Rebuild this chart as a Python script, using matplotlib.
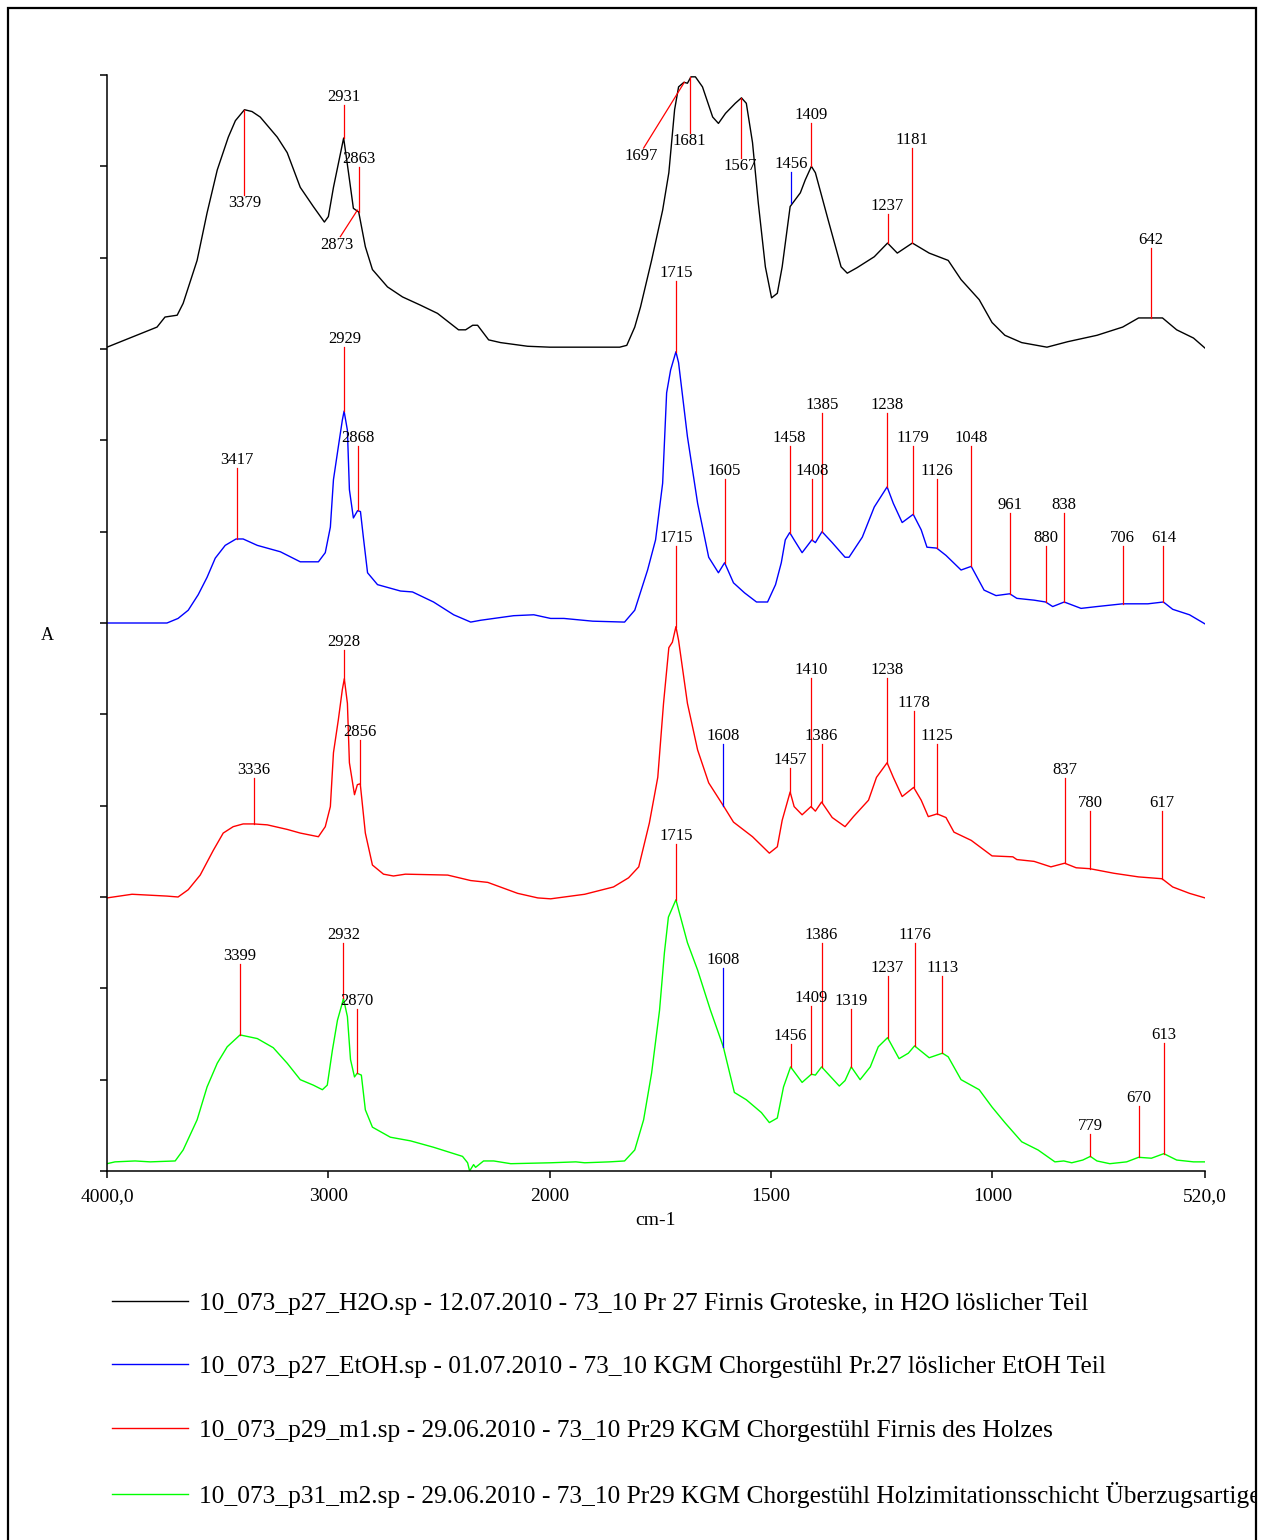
import numpy as np
import matplotlib
matplotlib.use("Agg")
import matplotlib.pyplot as plt
from matplotlib.patches import Rectangle
from matplotlib.lines import Line2D

plt.rcParams['font.family'] = ['Liberation Serif', 'DejaVu Serif']

# ---------------- data ----------------
wn_black = [4000, 3774, 3738, 3683, 3656, 3593, 3548, 3502, 3452, 3420, 3379, 3345, 3308, 3231, 3186, 3127,
            3068, 3018, 3000, 2977, 2931, 2909, 2887, 2863, 2833, 2801, 2733, 2665, 2584, 2507, 2412, 2380,
            2348, 2326, 2276, 2222, 2100, 2000, 1842, 1826, 1808, 1795, 1770, 1745, 1731, 1718, 1709, 1697,
            1689, 1681, 1671, 1655, 1632, 1619, 1603, 1581, 1567, 1556, 1542, 1529, 1513, 1499, 1486, 1475,
            1457, 1434, 1423, 1409, 1400, 1371, 1342, 1328, 1306, 1267, 1237, 1215, 1181, 1143, 1100, 1071,
            1030, 1001, 972, 934, 877, 830, 764, 706, 670, 642, 616, 584, 546, 520]
ab_black = [9.02, 9.24, 9.35, 9.37, 9.50, 9.97, 10.49, 10.96, 11.32, 11.50, 11.62, 11.60, 11.54, 11.32, 11.15, 10.77,
            10.56, 10.39, 10.45, 10.77, 11.31, 10.93, 10.54, 10.50, 10.12, 9.87, 9.68, 9.57, 9.48, 9.39, 9.21, 9.21,
            9.26, 9.26, 9.10, 9.07, 9.03, 9.02, 9.02, 9.04, 9.24, 9.46, 9.97, 10.52, 10.93, 11.62, 11.87, 11.92,
            11.91, 11.98, 11.98, 11.87, 11.54, 11.47, 11.58, 11.69, 11.75, 11.69, 11.26, 10.60, 9.90, 9.56, 9.61, 9.90,
            10.56, 10.71, 10.85, 11.00, 10.93, 10.41, 9.90, 9.83, 9.89, 10.01, 10.16, 10.05, 10.16, 10.05, 9.97, 9.76,
            9.54, 9.29, 9.15, 9.07, 9.02, 9.08, 9.15, 9.24, 9.34, 9.34, 9.34, 9.21, 9.12, 9.01]

wn_blue = [4000, 3729, 3679, 3633, 3588, 3548, 3511, 3466, 3417, 3385, 3321, 3217, 3127, 3045, 3014, 2991,
           2977, 2955, 2937, 2929, 2914, 2905, 2887, 2868, 2855, 2842, 2823, 2778, 2674, 2620, 2525, 2434,
           2357, 2312, 2163, 2072, 1998, 1968, 1903, 1831, 1808, 1779, 1761, 1745, 1736, 1727, 1715, 1709,
           1689, 1666, 1641, 1619, 1605, 1585, 1560, 1533, 1508, 1490, 1477, 1468, 1458, 1448, 1430, 1408,
           1400, 1385, 1362, 1333, 1324, 1294, 1267, 1238, 1224, 1204, 1179, 1161, 1148, 1126, 1105, 1071,
           1048, 1019, 992, 961, 945, 906, 880, 864, 838, 800, 764, 706, 649, 614, 593, 555, 520]
ab_blue = [6.00, 6.00, 6.05, 6.14, 6.31, 6.50, 6.71, 6.85, 6.92, 6.92, 6.85, 6.78, 6.67, 6.67, 6.77, 7.05,
           7.57, 7.93, 8.22, 8.32, 8.11, 7.46, 7.15, 7.23, 7.22, 6.94, 6.55, 6.42, 6.35, 6.34, 6.23, 6.09,
           6.01, 6.03, 6.08, 6.09, 6.05, 6.05, 6.02, 6.01, 6.14, 6.58, 6.91, 7.53, 8.52, 8.77, 8.97, 8.85,
           8.04, 7.31, 6.72, 6.55, 6.66, 6.44, 6.33, 6.23, 6.23, 6.42, 6.66, 6.91, 6.99, 6.91, 6.77, 6.91,
           6.88, 7.00, 6.88, 6.72, 6.72, 6.94, 7.27, 7.49, 7.31, 7.10, 7.19, 7.02, 6.83, 6.82, 6.74, 6.58,
           6.62, 6.36, 6.30, 6.32, 6.27, 6.25, 6.23, 6.18, 6.23, 6.16, 6.18, 6.21, 6.21, 6.23, 6.15, 6.09, 5.99]

wn_red = [4000, 3887, 3729, 3679, 3633, 3579, 3520, 3475, 3430, 3385, 3336, 3276, 3186, 3127, 3045, 3014,
          2991, 2977, 2955, 2937, 2928, 2914, 2905, 2882, 2869, 2856, 2833, 2801, 2751, 2706, 2652, 2461,
          2357, 2280, 2145, 2054, 1998, 1921, 1856, 1822, 1799, 1775, 1756, 1743, 1731, 1723, 1715, 1709,
          1689, 1666, 1641, 1608, 1585, 1542, 1504, 1486, 1475, 1457, 1448, 1430, 1410, 1400, 1386, 1362,
          1333, 1314, 1280, 1262, 1238, 1224, 1204, 1178, 1161, 1145, 1125, 1105, 1087, 1048, 1001, 954,
          945, 906, 868, 837, 811, 780, 726, 670, 617, 593, 555, 520]
ab_red = [2.99, 3.03, 3.01, 3.00, 3.08, 3.24, 3.51, 3.70, 3.77, 3.80, 3.80, 3.79, 3.74, 3.70, 3.66, 3.77,
          3.99, 4.58, 4.94, 5.27, 5.39, 5.12, 4.47, 4.12, 4.23, 4.24, 3.70, 3.35, 3.25, 3.23, 3.25, 3.24,
          3.18, 3.16, 3.04, 2.99, 2.98, 3.03, 3.11, 3.21, 3.33, 3.81, 4.31, 5.12, 5.73, 5.79, 5.96, 5.81,
          5.12, 4.61, 4.25, 4.00, 3.82, 3.66, 3.48, 3.55, 3.84, 4.15, 3.99, 3.90, 3.99, 3.94, 4.04, 3.87,
          3.77, 3.88, 4.06, 4.31, 4.47, 4.31, 4.10, 4.20, 4.06, 3.88, 3.91, 3.87, 3.71, 3.62, 3.45, 3.44,
          3.41, 3.39, 3.33, 3.37, 3.32, 3.31, 3.26, 3.22, 3.20, 3.11, 3.04, 2.99]

wn_green = [4000, 3964, 3873, 3805, 3692, 3656, 3593, 3548, 3502, 3457, 3399, 3321, 3249, 3186, 3127, 3068,
            3027, 3005, 2982, 2959, 2937, 2932, 2914, 2900, 2882, 2870, 2851, 2833, 2801, 2720, 2629, 2525,
            2394, 2371, 2362, 2344, 2335, 2299, 2253, 2176, 1998, 1941, 1921, 1865, 1831, 1808, 1788, 1770,
            1752, 1741, 1732, 1715, 1709, 1689, 1666, 1637, 1608, 1583, 1556, 1522, 1504, 1486, 1472, 1456,
            1430, 1409, 1400, 1386, 1346, 1333, 1319, 1299, 1276, 1258, 1237, 1211, 1190, 1176, 1143, 1113,
            1100, 1071, 1030, 1001, 972, 934, 897, 859, 839, 821, 796, 779, 764, 735, 697, 670, 641, 613,
            584, 546, 520]
ab_green = [0.08, 0.10, 0.11, 0.10, 0.11, 0.23, 0.56, 0.92, 1.18, 1.36, 1.49, 1.45, 1.35, 1.18, 1.00, 0.94,
            0.89, 0.94, 1.32, 1.65, 1.84, 1.89, 1.69, 1.22, 1.03, 1.07, 1.05, 0.67, 0.48, 0.37, 0.33, 0.26,
            0.16, 0.09, 0.00, 0.07, 0.04, 0.11, 0.11, 0.08, 0.09, 0.10, 0.09, 0.10, 0.11, 0.23, 0.56, 1.07,
            1.76, 2.39, 2.78, 2.97, 2.86, 2.50, 2.20, 1.76, 1.36, 0.86, 0.78, 0.64, 0.53, 0.58, 0.92, 1.14,
            0.97, 1.06, 1.05, 1.14, 0.93, 0.99, 1.14, 1.00, 1.14, 1.36, 1.46, 1.23, 1.29, 1.37, 1.24, 1.29,
            1.25, 1.00, 0.89, 0.70, 0.53, 0.32, 0.23, 0.10, 0.11, 0.09, 0.12, 0.16, 0.11, 0.08, 0.10, 0.15,
            0.14, 0.19, 0.12, 0.10, 0.10]

# peak annotations
black_labels = ['3379', '2931', '2863', '2873', '1697', '1681', '1567', '1456', '1409', '1237', '1181', '642']
black_peak_x = [3379, 2931, 2863, 2869, 1696, 1684, 1569, 1454, 1409, 1237, 1181, 642]
black_peak_y = [11.62, 11.31, 10.50, 10.52, 11.92, 11.98, 11.75, 10.60, 11.00, 10.16, 10.16, 9.34]
black_tag_x = [3379, 2931, 2863, 2946, 1788, 1684, 1569, 1454, 1409, 1237, 1181, 642]
black_tag_y = [10.69, 11.67, 10.99, 10.23, 11.20, 11.37, 11.09, 10.94, 11.47, 10.48, 11.20, 10.11]
black_text_x = [3379, 2931, 2863, 2960, 1793, 1684, 1569, 1454, 1409, 1237, 1181, 642]
black_below = [True, False, False, True, True, True, True, False, False, False, False, False]
black_mark = ['r', 'r', 'r', 'r', 'r', 'r', 'r', 'b', 'r', 'r', 'r', 'r']

blue_labels = ['2929', '2868', '3417', '1715', '1605', '1458', '1408', '1385', '1238', '1179', '1126',
               '1048', '961', '880', '838', '706', '614']
blue_peak_x = [2928, 2868, 3412, 1715, 1605, 1458, 1408, 1385, 1238, 1179, 1126, 1048, 961, 880, 838, 706, 614]
blue_peak_y = [8.32, 7.24, 6.92, 8.97, 6.66, 6.99, 6.91, 7.00, 7.49, 7.19, 6.82, 6.62, 6.32, 6.23, 6.23, 6.21, 6.23]
blue_tag_y = [9.02, 7.94, 7.70, 9.74, 7.58, 7.94, 7.58, 8.30, 8.30, 7.94, 7.58, 7.94, 7.20, 6.84, 7.20, 6.84, 6.84]

red_labels = ['2928', '2856', '3336', '1715', '1608', '1410', '1386', '1457', '1238', '1178', '1125',
              '837', '780', '617']
red_peak_x = [2928, 2856, 3336, 1715, 1608, 1410, 1386, 1457, 1238, 1178, 1125, 837, 780, 617]
red_peak_y = [5.39, 4.24, 3.80, 5.96, 4.00, 3.99, 4.04, 4.15, 4.47, 4.20, 3.91, 3.37, 3.31, 3.20]
red_tag_y = [5.70, 4.72, 4.30, 6.84, 4.68, 5.40, 4.68, 4.41, 5.40, 5.04, 4.68, 4.30, 3.94, 3.94]
red_mark = ['r', 'r', 'r', 'r', 'b', 'r', 'r', 'r', 'r', 'r', 'r', 'r', 'r', 'r']

green_labels = ['3399', '2932', '2870', '1715', '1608', '1386', '1409', '1456', '1319', '1237', '1176',
                '1113', '779', '670', '613']
green_peak_x = [3399, 2932, 2870, 1715, 1608, 1386, 1409, 1456, 1319, 1237, 1176, 1113, 779, 670, 613]
green_peak_y = [1.49, 1.89, 1.07, 2.97, 1.36, 1.14, 1.06, 1.14, 1.14, 1.46, 1.37, 1.29, 0.16, 0.15, 0.19]
green_tag_y = [2.27, 2.50, 1.77, 3.58, 2.22, 2.50, 1.81, 1.39, 1.77, 2.14, 2.50, 2.14, 0.41, 0.71, 1.40]
green_mark = ['r', 'r', 'r', 'r', 'b', 'r', 'r', 'r', 'r', 'r', 'r', 'r', 'r', 'r', 'r']

legend_labels = [
    "10_073_p27_H2O.sp - 12.07.2010 - 73_10 Pr 27 Firnis Groteske, in H2O löslicher Teil",
    "10_073_p27_EtOH.sp - 01.07.2010 - 73_10 KGM Chorgestühl Pr.27 löslicher EtOH Teil",
    "10_073_p29_m1.sp - 29.06.2010 - 73_10 Pr29 KGM Chorgestühl Firnis des Holzes",
    "10_073_p31_m2.sp - 29.06.2010 - 73_10 Pr29 KGM Chorgestühl Holzimitationsschicht Überzugsartiger",
]
x_ticks = [4000, 3000, 2000, 1500, 1000, 520]
x_ticklabels = ['4000,0', '3000', '2000', '1500', '1000', '520,0']

# ---------------- figure ----------------
W, H = 1265, 1540
fig = plt.figure(figsize=(W / 100, H / 100), dpi=100)
ax = fig.add_axes([107 / W, 1 - 1171 / H, (1205 - 107) / W, (1171 - 75) / H])


def fwd(w):
    w = np.asarray(w, dtype=float)
    return np.where(w >= 2000, 2000 + (w - 2000) / 2.0, w)


def inv(t):
    t = np.asarray(t, dtype=float)
    return np.where(t >= 2000, 2000 + (t - 2000) * 2.0, t)


ax.set_xscale('function', functions=(fwd, inv))
ax.set_xlim(4000, 520)
ax.set_ylim(0, 12)

clr = {'r': '#ff0000', 'b': '#0000ff'}
lw_curve = 1.0
ax.plot(wn_black, ab_black, color='black', lw=lw_curve, zorder=2)
ax.plot(wn_blue, ab_blue, color='#0000ff', lw=lw_curve, zorder=2)
ax.plot(wn_red, ab_red, color='#ff0000', lw=lw_curve, zorder=2)
ax.plot(wn_green, ab_green, color='#00ff00', lw=lw_curve, zorder=2)

fs_lab = 12
for lab, px_, py_, tx, ty, txt_x, below, mk in zip(black_labels, black_peak_x, black_peak_y, black_tag_x,
                                                    black_tag_y, black_text_x, black_below, black_mark):
    ax.plot([px_, tx], [py_, ty], color=clr[mk], lw=0.9, zorder=3)
    ax.text(txt_x, ty, lab, ha='center', va='top' if below else 'bottom', fontsize=fs_lab, zorder=4)

for labels, xs, ys, tys, marks in [
    (blue_labels, blue_peak_x, blue_peak_y, blue_tag_y, ['r'] * len(blue_labels)),
    (red_labels, red_peak_x, red_peak_y, red_tag_y, red_mark),
    (green_labels, green_peak_x, green_peak_y, green_tag_y, green_mark),
]:
    for lab, x, y, ty, mk in zip(labels, xs, ys, tys, marks):
        ax.plot([x, x], [y, ty], color=clr[mk], lw=0.9, zorder=3)
        ax.text(x, ty, lab, ha='center', va='bottom', fontsize=fs_lab, zorder=4)

# axes styling
for s in ['top', 'right']:
    ax.spines[s].set_visible(False)
for s in ['left', 'bottom']:
    ax.spines[s].set_linewidth(1.1)
ax.set_yticks(np.arange(0, 13, 1))
ax.set_yticklabels([])
ax.set_xticks(x_ticks)
ax.set_xticklabels(x_ticklabels)
ax.xaxis.set_minor_locator(matplotlib.ticker.NullLocator())
ax.tick_params(axis='both', direction='out', length=5, width=1.1, labelsize=14)
ax.tick_params(axis='x', pad=7)
ax.set_xlabel('cm-1', fontsize=14, labelpad=5)
fig.text(47 / W, 1 - 636 / H, 'A', fontsize=13, ha='center', va='center')

# legend
handles = [Line2D([], [], color=c, lw=1.0) for c in ['black', '#0000ff', '#ff0000', '#00ff00']]
leg = fig.legend(handles, legend_labels, loc='upper left', bbox_to_anchor=(112 / W, 1 - 1292 / H),
                 frameon=False, fontsize=18.3, handlelength=2.99, handletextpad=0.43,
                 labelspacing=1.6, borderpad=0, borderaxespad=0)

# outer frame
frame = Rectangle((8 / W, -0.02), (1256 - 8) / W, 1.02 - 8 / H, transform=fig.transFigure,
                  fill=False, lw=1.6, edgecolor='black')
fig.patches.append(frame)
clip = Rectangle((8 / W, -0.02), (1256 - 8) / W, 1.02 - 8 / H, transform=fig.transFigure,
                 fill=False, lw=0)
for t in leg.get_texts():
    t.set_clip_on(True)
    t.set_clip_path(clip)

fig.savefig('out.png', dpi=100)
